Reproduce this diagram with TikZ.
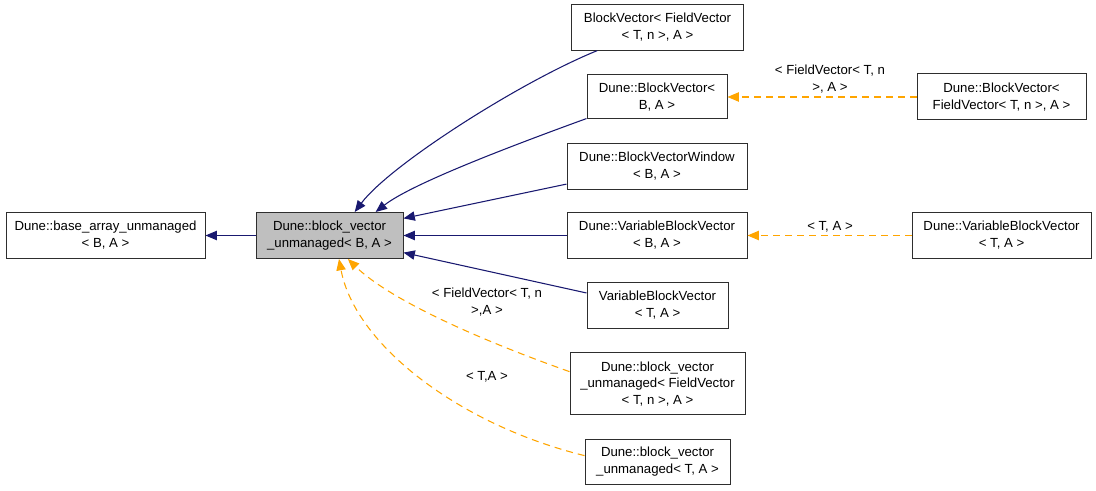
\documentclass[tikz,border=0pt]{standalone}
\usepackage{fontspec}
\setmainfont{Liberation Sans}
\usepackage{tikz}
\usetikzlibrary{arrows.meta,positioning,calc}
\definecolor{ink}{HTML}{2E2E2E}
\definecolor{edgeblue}{HTML}{191970}
\definecolor{edgeorange}{HTML}{FFA500}
\definecolor{curgray}{HTML}{BFBFBF}
\newcommand{\classfont}{\fontsize{9.9}{12.7}\selectfont}
\tikzset{
  classbox/.style={draw=ink,fill=white,line width=0.75pt,align=center,
                   inner sep=0pt,font=\classfont},
  curbox/.style={classbox,fill=curgray},
  inharr/.style={-{Triangle[length=8.5pt,width=7pt]},line width=0.8pt,
                 draw=edgeblue},
  tplarr/.style={-{Triangle[length=8.5pt,width=7pt]},line width=0.8pt,
                 draw=edgeorange,dash pattern=on 5.25pt off 3.75pt},
  tpllabel/.style={align=center,font=\classfont,inner sep=0pt}
}
\begin{document}
\begin{tikzpicture}[x=0.75pt,y=0.75pt]
    \path[use as bounding box] (0,0) rectangle (1096,-491);
    % base and current class
    \node[classbox,minimum width=149.25pt,minimum height=34.5pt] (base) at (105.5,-235.5)
      {Dune::base\_array\_unmanaged\\< B, A >};
    \node[curbox,minimum width=110.25pt,minimum height=34.5pt] (cur) at (329.5,-235.5)
      {Dune::block\_vector\\\_unmanaged< B, A >};
    % derived classes
    \node[classbox,minimum width=129pt,minimum height=34pt] (bvfv) at (657.5,-27.5)
      {BlockVector< FieldVector\\< T, n >, A >};
    \node[classbox,minimum width=105pt,minimum height=33pt] (bvba) at (657,-97)
      {Dune::BlockVector<\\B, A >};
    \node[classbox,minimum width=126.75pt,minimum height=34.5pt] (dbvfv) at (1001.5,-97)
      {Dune::BlockVector<\\FieldVector< T, n >, A >};
    \node[classbox,minimum width=135pt,minimum height=34pt] (bvw) at (657,-166.5)
      {Dune::BlockVectorWindow\\< B, A >};
    \node[classbox,minimum width=135pt,minimum height=34pt] (dvbvba) at (657,-235.5)
      {Dune::VariableBlockVector\\< B, A >};
    \node[classbox,minimum width=134.25pt,minimum height=34pt] (dvbvta) at (1001.5,-235.5)
      {Dune::VariableBlockVector\\< T, A >};
    \node[classbox,minimum width=105.75pt,minimum height=34pt] (vbvta) at (657.5,-305.5)
      {VariableBlockVector\\< T, A >};
    \node[classbox,minimum width=131.25pt,minimum height=46.5pt] (bvufv) at (657.5,-384)
      {Dune::block\_vector\\\_unmanaged< FieldVector\\< T, n >, A >};
    \node[classbox,minimum width=108.75pt,minimum height=33pt] (bvuta) at (657.5,-462)
      {Dune::block\_vector\\\_unmanaged< T, A >};
    % template labels
    \node[tpllabel] (lbbv) at (830,-79) {< FieldVector< T, n\\>, A >};
    \node[tpllabel] (lbvbv) at (830,-227) {< T, A >};
    \node[tpllabel] (lbufv) at (487,-302) {< FieldVector< T, n\\>,A >};
    \node[tpllabel] (lbuta) at (487,-377) {< T,A >};
    % inheritance
    \draw[inharr] (cur.west) -- (base.east);
    \draw[inharr] (bvfv.201) .. controls (520,-82) and (390,-165) .. (cur.43);
    \draw[inharr] (bvba.197.5) .. controls (500,-150) and (410,-185) .. (cur.27);
    \draw[inharr] (bvw.191) -- (cur.13.6);
    \draw[inharr] (dvbvba.west) -- (cur.east);
    \draw[inharr] (vbvta.170) -- (cur.-13.6);
    % template instances
    \draw[tplarr] (dbvfv.west) -- (bvba.east);
    \draw[tplarr] (dvbvta.west) -- (dvbvba.east);
    \draw[tplarr] (bvufv.172) .. controls (480,-340) and (390,-300) .. (cur.-52);
    \draw[tplarr] (bvuta.175) .. controls (460,-425) and (355,-345) .. (cur.-68);
\end{tikzpicture}
\end{document}
